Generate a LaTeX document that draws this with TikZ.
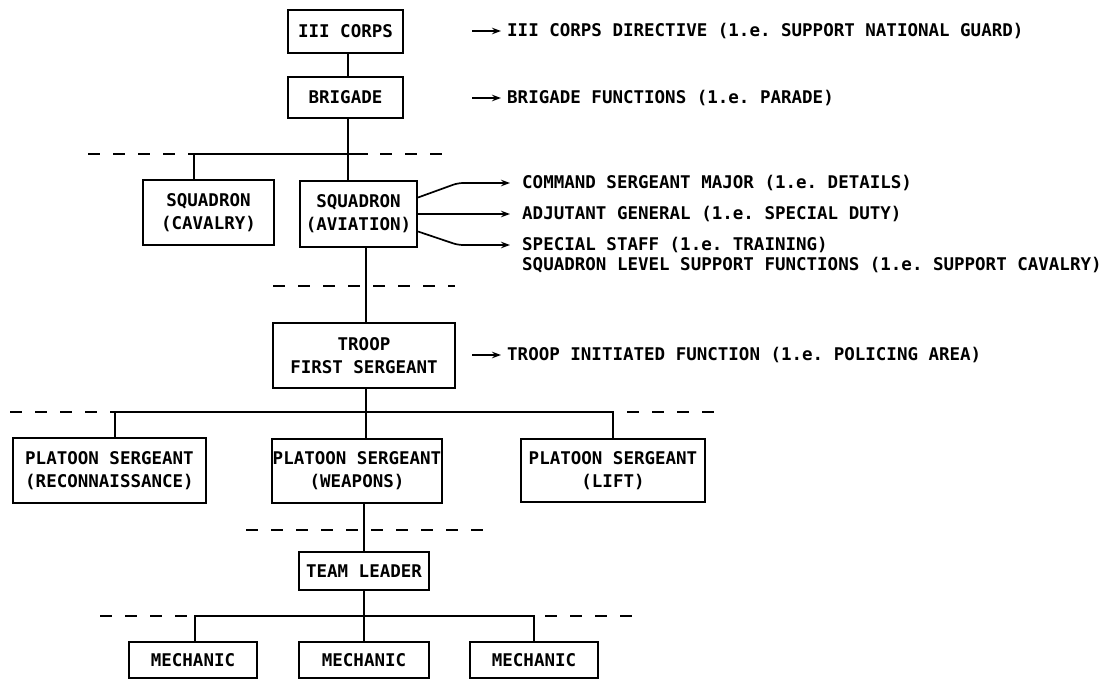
\documentclass[tikz,border=0pt]{standalone}
\usepackage{fontspec}
\setmonofont{DejaVu Sans Mono}
\usetikzlibrary{arrows.meta}
\begin{document}
\begin{tikzpicture}[x=1pt,y=1pt,
  txt/.style={font=\ttfamily\bfseries\fontsize{17.5}{23}\selectfont},
  box/.style={txt,draw,line width=2pt,inner sep=0pt,align=center},
  lbl/.style={txt,anchor=west,inner sep=0pt},
  conn/.style={line width=1.8pt},
  dsh/.style={line width=2.4pt,dash pattern=on 12pt off 13pt},
  arr/.style={line width=1.7pt,rounded corners=5pt,-{Stealth[length=9pt,width=6.5pt]}}]
\useasboundingbox (0,0) rectangle (1119,-680);
% boxes
\node[box,minimum width=115,minimum height=43] (corps) at (345.5,-31.5) {III CORPS};
\node[box,minimum width=115,minimum height=41] (brig) at (345.5,-97.5) {BRIGADE};
\node[box,minimum width=131,minimum height=65] (cav) at (208.5,-212.5) {SQUADRON\\(CAVALRY)};
\node[box,minimum width=117,minimum height=66] (avi) at (358.5,-213.5) {SQUADRON\\(AVIATION)};
\node[box,minimum width=182,minimum height=65] (troop) at (364,-355.5) {TROOP\\FIRST SERGEANT};
\node[box,minimum width=193,minimum height=65] (recon) at (109.5,-470.5) {PLATOON SERGEANT\\(RECONNAISSANCE)};
\node[box,minimum width=170,minimum height=64] (weap) at (357,-471) {PLATOON SERGEANT\\(WEAPONS)};
\node[box,minimum width=184,minimum height=63] (lift) at (613,-470.5) {PLATOON SERGEANT\\(LIFT)};
\node[box,minimum width=130,minimum height=38] (tl) at (364,-571) {TEAM LEADER};
\node[box,minimum width=128,minimum height=36] (m1) at (193,-660) {MECHANIC};
\node[box,minimum width=130,minimum height=36] (m2) at (364,-660) {MECHANIC};
\node[box,minimum width=128,minimum height=36] (m3) at (534,-660) {MECHANIC};
% labels
\node[lbl] (t1) at (507,-31) {III CORPS DIRECTIVE (1.e. SUPPORT NATIONAL GUARD)};
\node[lbl] (t2) at (507,-98) {BRIGADE FUNCTIONS (1.e. PARADE)};
\node[lbl] (t3) at (522,-183) {COMMAND SERGEANT MAJOR (1.e. DETAILS)};
\node[lbl] (t4) at (522,-214) {ADJUTANT GENERAL (1.e. SPECIAL DUTY)};
\node[lbl] (t5) at (522,-245) {SPECIAL STAFF (1.e. TRAINING)};
\node[lbl] (t6) at (522,-265) {SQUADRON LEVEL SUPPORT FUNCTIONS (1.e. SUPPORT CAVALRY)};
\node[lbl] (t7) at (507,-355) {TROOP INITIATED FUNCTION (1.e. POLICING AREA)};
% arrows to labels
\draw[arr] ([xshift=-35]t1.west) -- ([xshift=-6]t1.west);
\draw[arr] ([xshift=-35]t2.west) -- ([xshift=-6]t2.west);
\draw[arr] ([xshift=-35]t7.west) -- ([xshift=-6]t7.west);
\coordinate (k3) at (458,-183);
\coordinate (k5) at (458,-245);
\draw[arr] ([yshift=16]avi.east) -- (k3) -- ([xshift=-12]t3.west);
\draw[arr] ([yshift=-0.5]avi.east) -- ([xshift=-12]t4.west);
\draw[arr] ([yshift=-18]avi.east) -- (k5) -- ([xshift=-12]t5.west);
% level 1 connectors
\coordinate (j0) at (348,-64);
\draw[conn] (j0 |- corps.south) -- (j0 |- brig.north);
\coordinate (j1) at (348,-154);
\coordinate (c1) at (194,-154);
\coordinate (d1a) at (88,-154);
\coordinate (d1b) at (380,-154);
\coordinate (d1c) at (445,-154);
\draw[conn] (j1 |- brig.south) -- (j1 |- avi.north);
\draw[conn] (c1 |- cav.north) -- (c1) -- (368,-154);
\draw[dsh] (d1a) -- (c1);
\draw[dsh] (d1b) -- (d1c);
% level 2
\coordinate (j2) at (366,-286);
\draw[conn] (j2 |- avi.south) -- (j2 |- troop.north);
\coordinate (d2a) at (273,-286);
\coordinate (d2b) at (455,-286);
\draw[dsh] (d2a) -- (d2b);
% level 3
\coordinate (j3) at (366,-412);
\coordinate (c3a) at (115,-412);
\coordinate (c3b) at (613,-412);
\draw[conn] (j3 |- troop.south) -- (j3 |- weap.north);
\draw[conn] (c3a |- recon.north) -- (c3a) -- (c3b) -- (c3b |- lift.north);
\draw[dsh] (10,-412) -- (c3a);
\draw[dsh] (627,-412) -- (717,-412);
% level 4
\coordinate (j4) at (364,-530);
\draw[conn] (j4 |- weap.south) -- (j4 |- tl.north);
\draw[dsh] (246,-530) -- (484,-530);
% level 5
\coordinate (j5) at (364,-616);
\coordinate (c5a) at (195,-616);
\coordinate (c5b) at (534,-616);
\draw[conn] (j5 |- tl.south) -- (j5 |- m2.north);
\draw[conn] (c5a |- m1.north) -- (c5a) -- (c5b) -- (c5b |- m3.north);
\draw[dsh] (100,-616) -- (c5a);
\draw[dsh] (545,-616) -- (637,-616);
\end{tikzpicture}
\end{document}
